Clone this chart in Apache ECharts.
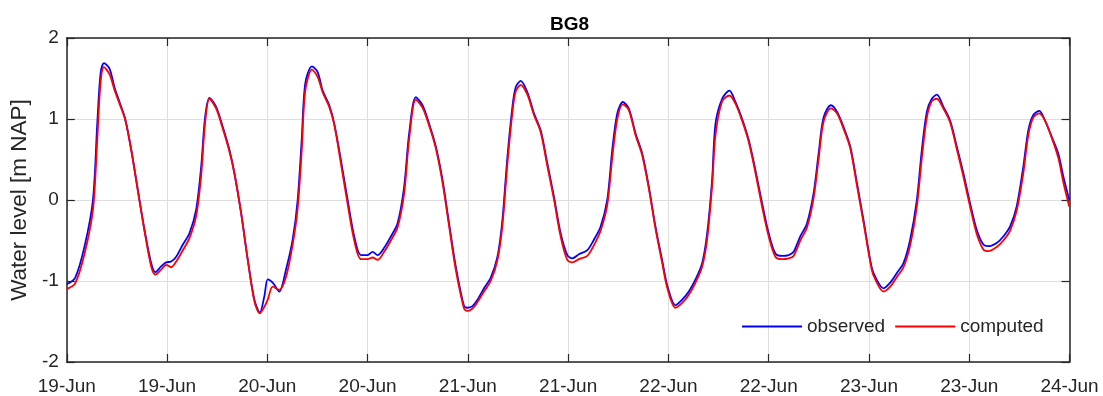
<!DOCTYPE html>
<html>
<head>
<meta charset="utf-8">
<script src="https://cdn.jsdelivr.net/npm/echarts@6/dist/echarts.min.js"></script>
<style>
html,body{margin:0;padding:0;background:#fff;}
#chart{width:1103px;height:396px;}
</style>
</head>
<body>
<div id="chart"></div>
<script>
// hours since 19-Jun 00:00
const hours = [0,1,2.13,3.13,3.65,4.04,4.45,5.12,5.71,6.31,6.99,7.71,8.51,9.30,10.10,10.61,11.29,11.89,12.49,13.09,13.89,14.68,15.48,16.08,16.55,17.07,17.87,18.67,19.46,20.06,20.86,21.66,22.45,23.1,23.64,24.05,24.64,25.43,26.23,27.03,27.63,28.11,28.54,29.34,30.02,30.62,31.41,32.01,32.81,33.61,34.40,35.20,36.0,36.6,37.19,37.98,38.78,39.58,40.37,40.97,41.77,42.57,43.36,44.16,44.96,45.75,46.55,47.54,47.95,48.55,49.15,49.93,50.73,51.54,52.13,52.73,53.33,53.72,54.32,55.12,55.91,56.71,57.51,58.30,59.10,59.90,60.50,61.29,62.29,63.08,63.88,64.68,65.28,65.88,66.55,67.26,68.07,68.87,69.66,70.45,71.26,71.9,72.84,73.65,74.44,75.24,76.04,76.64,77.23,77.63,78.43,79.30,80.02,80.82,81.61,82.41,83.21,84.0,84.80,85.60,86.39,86.98,87.78,88.58,89.37,89.97,90.57,91.45,92.17,92.96,93.76,94.56,95.35,96.15,96.54,97.74,98.54,99.34,100.13,100.93,101.73,102.33,102.93,103.52,104.12,104.91,105.71,106.51,107.30,108.10,108.90,109.69,110.29,111.29,112.08,112.88,113.68,114.47,115.07,115.67,116.39,117.07,117.87,118.66,119.26,119.97];

const observed = [-1.04,-0.96,-0.57,0.00,0.95,1.56,1.69,1.62,1.39,1.21,1.00,0.62,0.12,-0.37,-0.78,-0.89,-0.82,-0.77,-0.76,-0.70,-0.55,-0.41,-0.12,0.41,1.02,1.26,1.15,0.90,0.62,0.33,-0.16,-0.74,-1.23,-1.39,-1.19,-0.98,-1.02,-1.13,-0.86,-0.49,0.00,0.74,1.44,1.65,1.58,1.35,1.17,0.94,0.49,0.00,-0.45,-0.68,-0.68,-0.64,-0.68,-0.59,-0.45,-0.29,0.16,0.82,1.27,1.17,0.94,0.66,0.25,-0.29,-0.82,-1.31,-1.33,-1.31,-1.23,-1.09,-0.96,-0.70,-0.25,0.53,1.15,1.39,1.47,1.33,1.07,0.86,0.45,0.04,-0.41,-0.68,-0.72,-0.67,-0.62,-0.49,-0.33,0.00,0.62,1.07,1.21,1.13,0.82,0.57,0.16,-0.33,-0.75,-1.07,-1.30,-1.23,-1.13,-0.98,-0.78,-0.41,0.25,0.94,1.25,1.35,1.21,1.00,0.74,0.37,-0.04,-0.41,-0.66,-0.69,-0.68,-0.64,-0.45,-0.29,0.08,0.57,1.02,1.17,1.09,0.90,0.66,0.21,-0.25,-0.74,-0.90,-1.09,-1.02,-0.90,-0.78,-0.49,0.00,0.62,1.09,1.25,1.30,1.15,0.98,0.66,0.33,-0.04,-0.37,-0.55,-0.57,-0.53,-0.45,-0.33,-0.08,0.41,0.86,1.05,1.10,0.98,0.78,0.57,0.29,0.00];

const computed = [-1.10,-1.03,-0.66,-0.12,0.75,1.45,1.64,1.55,1.36,1.19,0.99,0.62,0.11,-0.38,-0.82,-0.92,-0.86,-0.80,-0.83,-0.76,-0.62,-0.47,-0.20,0.30,0.95,1.25,1.13,0.88,0.60,0.33,-0.16,-0.74,-1.25,-1.40,-1.32,-1.23,-1.07,-1.11,-0.95,-0.55,-0.10,0.60,1.35,1.61,1.52,1.33,1.15,0.93,0.45,-0.05,-0.50,-0.73,-0.73,-0.71,-0.74,-0.64,-0.50,-0.34,0.08,0.75,1.24,1.14,0.92,0.64,0.22,-0.32,-0.86,-1.34,-1.37,-1.34,-1.26,-1.13,-1.00,-0.74,-0.32,0.45,1.08,1.34,1.42,1.30,1.05,0.84,0.42,0.01,-0.45,-0.74,-0.77,-0.73,-0.69,-0.56,-0.38,-0.06,0.52,1.00,1.18,1.11,0.80,0.55,0.14,-0.35,-0.78,-1.10,-1.33,-1.27,-1.17,-1.02,-0.82,-0.48,0.18,0.80,1.22,1.29,1.19,0.98,0.72,0.34,-0.08,-0.45,-0.70,-0.73,-0.72,-0.69,-0.50,-0.34,0.02,0.50,0.97,1.13,1.07,0.88,0.64,0.18,-0.28,-0.76,-0.93,-1.13,-1.07,-0.95,-0.83,-0.56,-0.08,0.52,1.02,1.22,1.25,1.13,0.96,0.63,0.29,-0.08,-0.42,-0.61,-0.63,-0.58,-0.50,-0.38,-0.13,0.33,0.80,1.02,1.07,0.98,0.77,0.52,0.22,-0.08];

const tickLabels = ['19-Jun','19-Jun','20-Jun','20-Jun','21-Jun','21-Jun','22-Jun','22-Jun','23-Jun','23-Jun','24-Jun'];
const yTicks = [-2,-1,0,1,2];

const chart = echarts.init(document.getElementById('chart'), null, {renderer:'canvas'});
const FONT = 'Liberation Sans, Arial, Helvetica, sans-serif';
const axisCol = '#262626';
const gridCol = '#dedede';

const option = {
  animation: false,
  backgroundColor: '#ffffff',
  title: {
    text: 'BG8',
    left: 545, top: 10,
    textStyle: {fontFamily: FONT, fontSize: 19, fontWeight: 'bold', color: '#000'}
  },
  legend: {
    left: 737, top: 312,
    icon: 'rect', itemWidth: 60, itemHeight: 2, itemGap: 10,
    textStyle: {fontFamily: FONT, fontSize: 19, color: axisCol},
    data: ['observed','computed']
  },
  grid: {left: 65.5, right: 33.5, top: 38, bottom: 32.7, show: false},
  xAxis: [{
    type: 'value', min: 0, max: 120, interval: 12,
    axisLine: {show: true, onZero: false, lineStyle: {color: axisCol, width: 1.5}},
    axisTick: {show: true, inside: true, length: 8, lineStyle: {color: axisCol, width: 1.2}},
    axisLabel: {
      margin: 15, fontFamily: FONT, fontSize: 19, color: axisCol,
      formatter: v => tickLabels[Math.round(v/12)]
    },
    splitLine: {show: true, lineStyle: {color: gridCol, width: 1}}
  },{
    type: 'value', min: 0, max: 120, interval: 12, position: 'top',
    axisLine: {show: true, onZero: false, lineStyle: {color: axisCol, width: 1.5}},
    axisTick: {show: true, inside: true, length: 8, lineStyle: {color: axisCol, width: 1.2}},
    axisLabel: {show: false}, splitLine: {show: false}
  }],
  yAxis: [{
    type: 'value', min: yTicks[0], max: yTicks[yTicks.length-1], interval: 1,
    name: 'Water level [m NAP]', nameLocation: 'middle', nameGap: 35,
    nameTextStyle: {fontFamily: FONT, fontSize: 22.5, color: axisCol},
    axisLine: {show: true, onZero: false, lineStyle: {color: axisCol, width: 1.5}},
    axisTick: {show: true, inside: true, length: 8, lineStyle: {color: axisCol, width: 1.2}},
    axisLabel: {margin: 8, fontFamily: FONT, fontSize: 19, color: axisCol},
    splitLine: {show: true, lineStyle: {color: gridCol, width: 1}}
  },{
    type: 'value', min: yTicks[0], max: yTicks[yTicks.length-1], interval: 1, position: 'right',
    axisLine: {show: true, onZero: false, lineStyle: {color: axisCol, width: 1.5}},
    axisTick: {show: true, inside: true, length: 8, lineStyle: {color: axisCol, width: 1.2}},
    axisLabel: {show: false}, splitLine: {show: false}
  }],
  series: [{
    name: 'observed', type: 'line', symbol: 'none', smooth: 0.3,
    lineStyle: {color: '#0000ff', width: 1.8}, itemStyle: {color: '#0000ff'},
    data: hours.map((t,i) => [t, observed[i]]), z: 3
  },{
    name: 'computed', type: 'line', symbol: 'none', smooth: 0.3,
    lineStyle: {color: '#ff0000', width: 1.8}, itemStyle: {color: '#ff0000'},
    data: hours.map((t,i) => [t, computed[i]]), z: 4
  }]
};
chart.setOption(option);
</script>
</body>
</html>
